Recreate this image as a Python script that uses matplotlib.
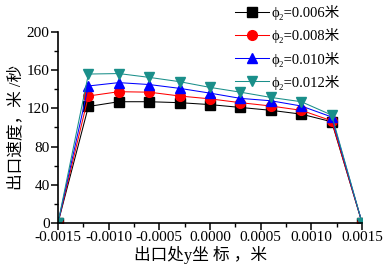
import numpy as np
import matplotlib
matplotlib.use('Agg')
import matplotlib.pyplot as plt
from matplotlib.ticker import MultipleLocator

plt.rcParams['font.family'] = ['Liberation Serif', 'DejaVu Serif', 'Noto Sans CJK SC']

# exit coordinate y (m)
y_pos = [-0.0015, -0.0012, -0.0009, -0.0006, -0.0003, 0.0, 0.0003, 0.0006, 0.0009, 0.0012, 0.0015]

# exit velocity (m/s) for each diameter
v_006 = [0, 122, 127, 127, 126, 124, 121, 118, 114, 106, 0]
v_008 = [0, 133, 137.5, 137, 133, 130, 126, 122.5, 118, 107, 0]
v_010 = [0, 143.5, 147, 145, 141, 136, 130.5, 128, 122.5, 111, 0]
v_012 = [0, 156, 156.5, 152.5, 148, 142, 137, 131.5, 127, 113, 0]

labels = ['ϕ₂=0.006米', 'ϕ₂=0.008米', 'ϕ₂=0.010米', 'ϕ₂=0.012米']

fig = plt.figure(figsize=(3.84, 2.67), dpi=100)
ax = fig.add_axes([0.151, 0.165, 0.792, 0.715])

ax.plot(y_pos, v_006, color='black', marker='s', ms=6.5, lw=0.75, label=labels[0])
ax.plot(y_pos, v_008, color='red', marker='o', ms=7, lw=0.75, label=labels[1])
ax.plot(y_pos, v_010, color='blue', marker='^', ms=7, lw=0.75, label=labels[2])
ax.plot(y_pos, v_012, color='#1a8f8a', marker='v', ms=7, lw=0.75, label=labels[3])

ax.set_xlim(-0.0015, 0.0015)
ax.set_ylim(0, 200)
ax.xaxis.set_minor_locator(MultipleLocator(0.00025))
ax.yaxis.set_major_locator(MultipleLocator(40))
ax.yaxis.set_minor_locator(MultipleLocator(20))
ax.set_xticks([-0.0015, -0.001, -0.0005, 0, 0.0005, 0.001, 0.0015])
ax.set_xticklabels(['-0.0015', '-0.0010', '-0.0005', '0.0000', '0.0005', '0.0010', '0.0015'])

ax.spines['top'].set_visible(False)
ax.spines['right'].set_visible(False)
ax.spines['left'].set_linewidth(1.2)
ax.spines['bottom'].set_linewidth(1.2)
ax.tick_params(which='major', direction='out', length=5, width=1.1, labelsize=11, pad=1)
ax.tick_params(which='minor', direction='out', length=3, width=1.0)

ax.set_xlabel('出口处y坐 标 ，米', fontsize=12, labelpad=0)
ax.xaxis.set_label_coords(0.47, -0.12)
ax.set_ylabel('出口速度，米 /秒', fontsize=12, labelpad=2)

ax.legend(loc='upper right', bbox_to_anchor=(0.89, 0.985), bbox_transform=fig.transFigure,
          frameon=False, fontsize=10.5, handlelength=2.3, handletextpad=0.2,
          labelspacing=0.55, borderaxespad=0.0, borderpad=0.1)

fig.savefig('out.png', dpi=100)
